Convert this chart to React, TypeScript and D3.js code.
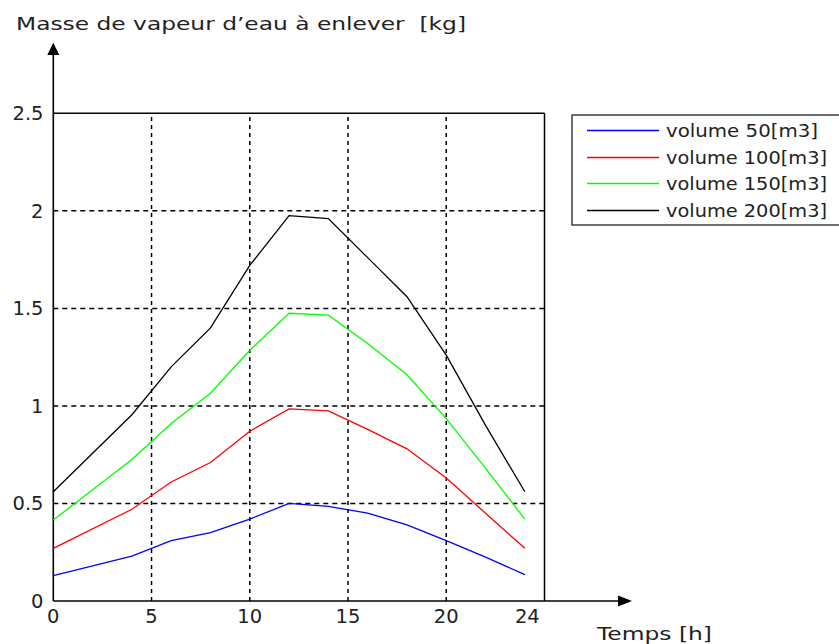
import React from "react";
import * as d3 from "d3";

const hours = [0, 4, 6, 8, 10, 12, 14, 16, 18, 20, 22, 24];
const vol50 = [0.13, 0.23, 0.31, 0.35, 0.42, 0.5, 0.485, 0.45, 0.39, 0.31, 0.225, 0.135];
const vol100 = [0.27, 0.47, 0.61, 0.71, 0.87, 0.985, 0.975, 0.88, 0.78, 0.63, 0.45, 0.27];
const vol150 = [0.415, 0.725, 0.91, 1.065, 1.285, 1.475, 1.465, 1.32, 1.16, 0.935, 0.68, 0.42];
const vol200 = [0.56, 0.955, 1.2, 1.4, 1.72, 1.975, 1.96, 1.76, 1.56, 1.26, 0.9, 0.56];

const seriesNames = ["volume 50[m3]", "volume 100[m3]", "volume 150[m3]", "volume 200[m3]"];
const seriesColors = ["#0000ff", "#ff0000", "#00ff00", "#000000"];
const seriesValues = [vol50, vol100, vol150, vol200];

const xTicks = [0, 5, 10, 15, 20, 24];
const xGrid = [5, 10, 15, 20];
const yTicks = [0, 0.5, 1, 1.5, 2, 2.5];
const yGrid = [0.5, 1, 1.5, 2];

const yTitle = "Masse de vapeur d\u2019eau \u00e0 enlever  [kg]";
const xTitle = "Temps [h]";

export default function App() {
  const W = 839;
  const H = 644;
  const x = d3.scaleLinear().domain([0, 25]).range([53.3, 544.5]);
  const y = d3.scaleLinear().domain([0, 2.5]).range([601, 113.3]);
  const font = "'DejaVu Sans', Verdana, sans-serif";

  const line = d3
    .line<number>()
    .x((_, i) => x(hours[i]))
    .y((d) => y(d));

  const legendRows = [130.5, 157.5, 183.5, 210.5];
  const legendTextLen = [152, 161, 161, 161];

  return (
    <svg
      width={W}
      height={H}
      style={{ position: "absolute", left: 0, top: 0, background: "#fff" }}
      fontFamily={font}
    >
      <rect x={0} y={0} width={W} height={H} fill="#fff" />
      {/* grid */}
      {xGrid.map((t) => (
        <line
          key={"gx" + t}
          x1={x(t)}
          x2={x(t)}
          y1={y(0)}
          y2={y(2.5)}
          stroke="#000"
          strokeWidth={1.5}
          strokeDasharray="4,4"
        />
      ))}
      {yGrid.map((t) => (
        <line
          key={"gy" + t}
          x1={x(0)}
          x2={x(25)}
          y1={y(t)}
          y2={y(t)}
          stroke="#000"
          strokeWidth={1.5}
          strokeDasharray="5,4"
        />
      ))}
      {/* box top and right */}
      <line x1={x(0)} x2={x(25)} y1={y(2.5)} y2={y(2.5)} stroke="#000" strokeWidth={1.5} />
      <line x1={x(25)} x2={x(25)} y1={y(2.5)} y2={y(0)} stroke="#000" strokeWidth={1.5} />
      {/* axes with arrows */}
      <line x1={x(0)} x2={x(0)} y1={y(0)} y2={52} stroke="#000" strokeWidth={1.6} />
      <path d={`M${x(0)},42.7 L${x(0) - 6},55 L${x(0) + 6},55 Z`} fill="#000" />
      <line x1={x(0)} x2={620} y1={y(0)} y2={y(0)} stroke="#000" strokeWidth={1.6} />
      <path d={`M632,${y(0)} L618,${y(0) - 5.5} L618,${y(0) + 5.5} Z`} fill="#000" />
      {/* series */}
      {seriesValues.map((vals, i) => (
        <path
          key={"s" + i}
          d={line(vals) || ""}
          fill="none"
          stroke={seriesColors[i]}
          strokeWidth={1.3}
        />
      ))}
      {/* y tick labels */}
      {yTicks.map((t) => (
        <text
          key={"yl" + t}
          x={43.5}
          y={y(t) + 7}
          textAnchor="end"
          fontSize={19.5}
          fill="#222"
        >
          {t}
        </text>
      ))}
      {/* x tick labels */}
      {xTicks.map((t) => (
        <text
          key={"xl" + t}
          x={x(t) + (t === 24 ? 2.5 : 0)}
          y={623}
          textAnchor="middle"
          fontSize={19.5}
          fill="#222"
        >
          {t}
        </text>
      ))}
      {/* titles */}
      <text
        x={16}
        y={30}
        fontSize={18}
        fill="#222"
        textLength={450}
        lengthAdjust="spacingAndGlyphs"
        style={{ whiteSpace: "pre" }}
      >
        {yTitle}
      </text>
      <text
        x={597}
        y={640}
        fontSize={18}
        fill="#222"
        textLength={115}
        lengthAdjust="spacingAndGlyphs"
      >
        {xTitle}
      </text>
      {/* legend */}
      <rect x={572} y={115} width={280} height={110} fill="#fff" stroke="#222" strokeWidth={1.3} />
      {seriesNames.map((n, i) => (
        <g key={"lg" + i}>
          <line
            x1={587}
            x2={659}
            y1={legendRows[i]}
            y2={legendRows[i]}
            stroke={seriesColors[i]}
            strokeWidth={1.6}
          />
          <text
            x={666}
            y={legendRows[i] + 6.5}
            fontSize={17}
            fill="#222"
            textLength={legendTextLen[i]}
            lengthAdjust="spacingAndGlyphs"
          >
            {n}
          </text>
        </g>
      ))}
    </svg>
  );
}
